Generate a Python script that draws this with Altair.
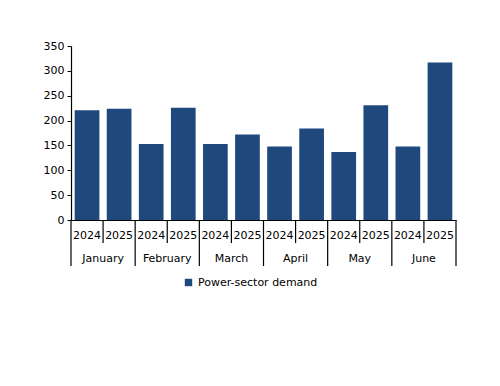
import altair as alt
import pandas as pd

months = ["January", "February", "March", "April", "May", "June"]
years = ["2024", "2025"]
values_2024 = [221, 153, 153, 148, 137, 148]
values_2025 = [224, 226, 172, 184, 231, 317]
series_name = "Power-sector demand"
y_ticks = [0, 50, 100, 150, 200, 250, 300, 350]

rows = []
for m, v24, v25 in zip(months, values_2024, values_2025):
    rows.append({"key": f"{m} 2024", "month": m, "year": "2024", "value": v24, "series": series_name})
    rows.append({"key": f"{m} 2025", "month": m, "year": "2025", "value": v25, "series": series_name})
df = pd.DataFrame(rows)
keys = list(df["key"])

FONT = "DejaVu Sans"
FS = 11
BAR = "#1f497d"

xscale = alt.Scale(type="band", domain=keys, paddingInner=0, paddingOuter=0)

bars = alt.Chart(df).mark_bar(width=alt.RelativeBandSize(0.77), color=BAR).encode(
    x=alt.X("key:N", scale=xscale, sort=keys,
            axis=alt.Axis(labels=False, ticks=False, title=None, domainColor="black", domainWidth=1.2)),
    y=alt.Y("value:Q", scale=alt.Scale(domain=[0, 350], nice=False),
            axis=alt.Axis(values=y_ticks, title=None, grid=False, tickSize=4, tickColor="black",
                          domainColor="black", domainWidth=1.2, labelColor="black",
                          labelFontSize=FS, labelFont=FONT, labelPadding=3)),
    color=alt.Color("series:N", scale=alt.Scale(range=[BAR]),
                    legend=alt.Legend(orient="none", legendX=112, legendY=231, title=None,
                                      symbolType="square", symbolSize=55, symbolStrokeWidth=0,
                                      labelFontSize=11, labelFont=FONT, labelColor="black")),
)

year_text = alt.Chart(df).mark_text(font=FONT, fontSize=FS, color="black", baseline="middle").encode(
    x=alt.X("key:N", scale=xscale, sort=keys),
    y=alt.value(190),
    text="year:N",
)

df25 = df[df["year"] == "2025"]
df24 = df[df["year"] == "2024"]

month_text = alt.Chart(df25).mark_text(font=FONT, fontSize=FS, color="black", baseline="middle").encode(
    x=alt.X("key:N", scale=xscale, sort=keys, bandPosition=0),
    y=alt.value(213),
    text="month:N",
)

short_rules = alt.Chart(df25).mark_rule(color="black", strokeWidth=1.2).encode(
    x=alt.X("key:N", scale=xscale, sort=keys, bandPosition=0),
    y=alt.value(174),
    y2=alt.value(197),
)

long_rules = alt.Chart(df24).mark_rule(color="black", strokeWidth=1.2).encode(
    x=alt.X("key:N", scale=xscale, sort=keys, bandPosition=0),
    y=alt.value(174),
    y2=alt.value(220),
)

end_rule = alt.Chart(df.tail(1)).mark_rule(color="black", strokeWidth=1.2).encode(
    x=alt.X("key:N", scale=xscale, sort=keys, bandPosition=1),
    y=alt.value(174),
    y2=alt.value(220),
)

chart = alt.layer(bars, year_text, month_text, short_rules, long_rules, end_rule).properties(
    width=385,
    height=174,
    autosize=alt.AutoSizeParams(type="none"),
    padding={"left": 63, "top": 38, "right": 20, "bottom": 120},
    background="white",
).configure_view(stroke=None)

chart.save("out.html", embed_options={"renderer": "svg", "actions": False})
